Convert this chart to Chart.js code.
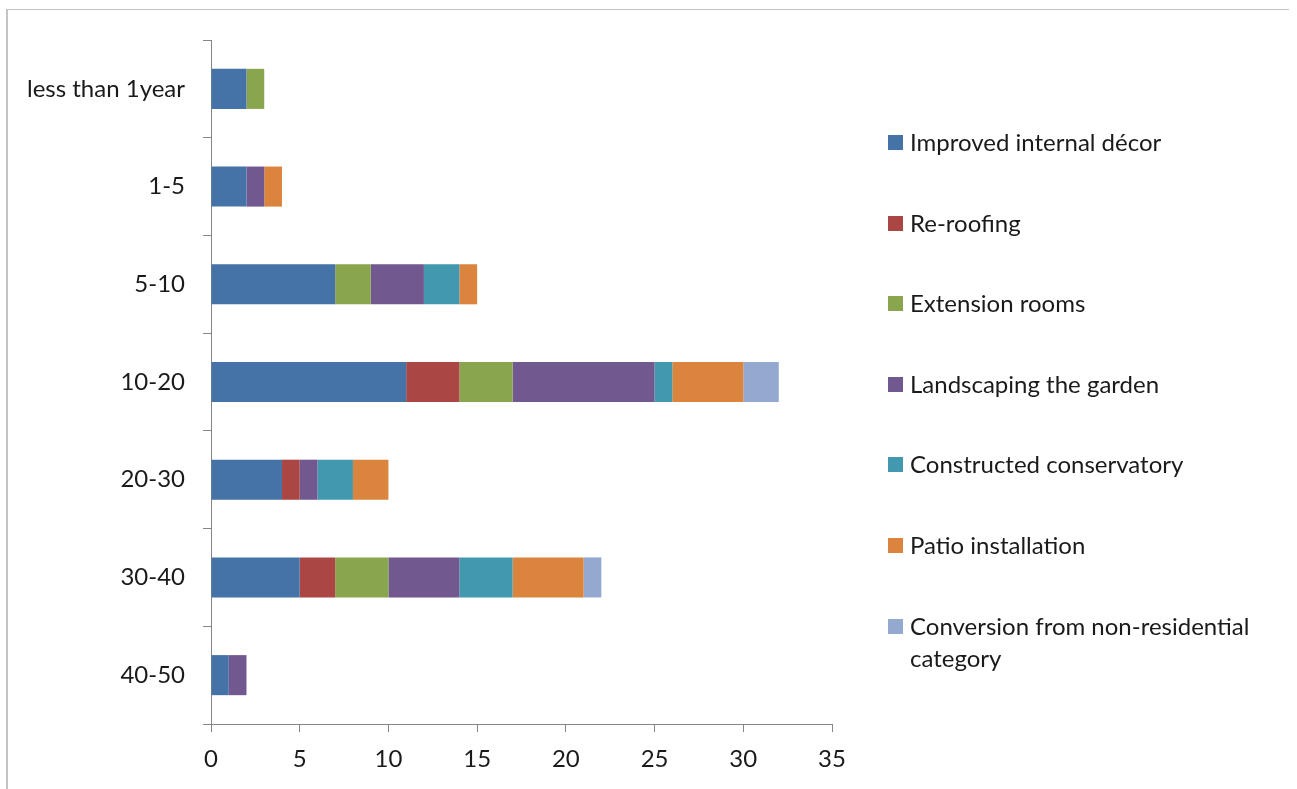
<!DOCTYPE html>
<html>
<head>
<meta charset="utf-8">
<script src="https://cdn.jsdelivr.net/npm/chart.js@4/dist/chart.umd.min.js"></script>
<style>
    body { margin: 0; background: #fff; }
    #wrap { position: relative; width: 1297px; height: 789px; overflow: hidden; }
    #frame { position: absolute; left: 6px; top: 9px; width: 1283px; height: 800px;
             border-top: 1px solid #c4c4c4; border-left: 2px solid #c4c4c4; box-sizing: border-box; }
    #legend { position: absolute; left: 888px; top: 126px; width: 395px;
              font-family: Lato, sans-serif; font-size: 24px; color: #1a1a1a; }
    .item { display: flex; align-items: flex-start; height: 80.6px; line-height: 32px; }
    .box { width: 15px; height: 15px; flex: none; margin: 9px 7px 0 0; }
</style>
</head>
<body>
<div id="wrap">
    <div id="frame"></div>
    <canvas id="grafikRenovasi" width="1297" height="789"></canvas>
    <div id="legend"></div>
</div>
<script>
// Kategori umur rumah (tahun)
const labels = ['less than 1year', '1-5', '5-10', '10-20', '20-30', '30-40', '40-50'];

// Jumlah renovasi per jenis
const dataDekor      = [2, 2, 7, 11, 4, 5, 1];
const dataAtap       = [0, 0, 0, 3, 1, 2, 0];
const dataPerluasan  = [1, 0, 2, 3, 0, 3, 0];
const dataTaman      = [0, 1, 3, 8, 1, 4, 1];
const dataKonservasi = [0, 0, 2, 1, 2, 3, 0];
const dataPatio      = [0, 1, 1, 4, 2, 4, 0];
const dataKonversi   = [0, 0, 0, 2, 0, 1, 0];

const namaSeri = ['Improved internal décor', 'Re-roofing', 'Extension rooms', 'Landscaping the garden',
    'Constructed conservatory', 'Patio installation', 'Conversion from non-residential category'];
const warnaSeri = ['#4572A7', '#AA4643', '#89A54E', '#71588F', '#4198AF', '#DB843D', '#93A9CF'];
const nilaiSeri = [dataDekor, dataAtap, dataPerluasan, dataTaman, dataKonservasi, dataPatio, dataKonversi];

const fontAxis = { family: 'Lato, sans-serif', size: 24 };
const warnaAxis = '#868686';

let chartRenovasi = new Chart(document.getElementById('grafikRenovasi').getContext('2d'), {
    type: 'bar',
    data: {
        labels: labels,
        datasets: nilaiSeri.map((d, i) => ({
            label: namaSeri[i],
            data: d,
            backgroundColor: warnaSeri[i],
            borderWidth: 0,
            barPercentage: 1,
            categoryPercentage: 0.41
        }))
    },
    options: {
        indexAxis: 'y',
        responsive: false,
        animation: false,
        layout: { padding: { top: 40, right: 465, left: 0, bottom: 0 } },
        scales: {
            x: {
                stacked: true,
                min: 0,
                max: 35,
                grid: { drawOnChartArea: false, tickLength: 8, color: warnaAxis },
                border: { color: warnaAxis },
                ticks: { stepSize: 5, padding: 13, font: fontAxis, color: '#1a1a1a' },
                afterFit: function(scale) { scale.height = 65; }
            },
            y: {
                stacked: true,
                grid: { offset: true, drawOnChartArea: false, tickLength: 8, color: warnaAxis },
                border: { color: warnaAxis },
                ticks: { padding: 18, font: fontAxis, color: '#1a1a1a' },
                afterFit: function(scale) { scale.width = 211; }
            }
        },
        plugins: {
            legend: { display: false },
            tooltip: { enabled: false }
        }
    }
});

// Legenda di sisi kanan
const legendEl = document.getElementById('legend');
chartRenovasi.data.datasets.forEach(ds => {
    const item = document.createElement('div');
    item.className = 'item';
    item.innerHTML = '<span class="box" style="background:' + ds.backgroundColor + '"></span><span>' + ds.label + '</span>';
    legendEl.appendChild(item);
});
</script>
</body>
</html>
